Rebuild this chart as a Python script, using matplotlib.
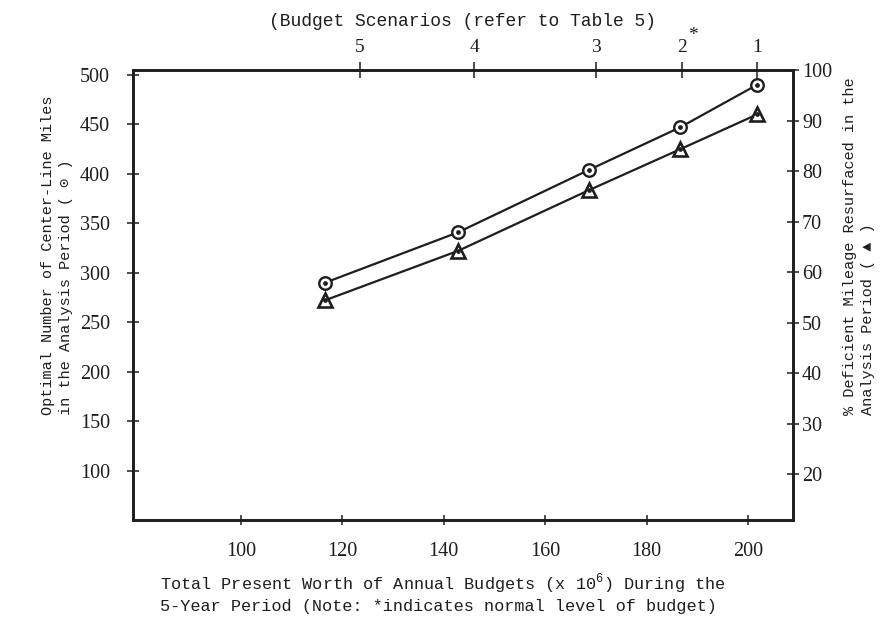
import matplotlib.pyplot as plt

# budget totals (x 10^6) for each scenario
budget = [116.5, 142.8, 168.6, 186.6, 201.8]
miles = [290, 341, 404, 447, 490]          # optimal center-line miles (left axis)
pct_resurfaced = [54.4, 64.2, 76.2, 84.3, 91.2]  # % deficient mileage resurfaced (right axis)

# budget scenarios shown on the top axis
scenario_pos = [123.5, 146.0, 170.0, 187.0, 201.8]
scenario_labels = ["5", "4", "3", "2", "1"]

x_ticks = [100, 120, 140, 160, 180, 200]
left_ticks = [100, 150, 200, 250, 300, 350, 400, 450, 500]
right_ticks = [20, 30, 40, 50, 60, 70, 80, 90, 100]

ink = "#1e1e1e"
mono = ["Liberation Mono", "DejaVu Sans Mono", "DejaVu Sans"]
serif = ["Liberation Serif", "DejaVu Serif"]
plt.rcParams["mathtext.fontset"] = "custom"
plt.rcParams["mathtext.rm"] = "Liberation Mono"

fig = plt.figure(figsize=(8.91, 6.27), dpi=100)
ax = fig.add_axes([133 / 891, 1 - 520 / 627, (793 - 133) / 891, (520 - 70) / 627])

ax.plot(budget, miles, color=ink, lw=1.6, marker="o", ms=9, mfc="white",
        mec=ink, mew=1.7, zorder=3)
ax.plot(budget, miles, ls="none", marker="o", ms=2.4, color=ink, zorder=4)

ax2 = ax.twinx()
ax2.plot(budget, pct_resurfaced, color=ink, lw=1.6, marker="^", ms=10, mfc="white",
         mec=ink, mew=1.9, zorder=3)
ax2.plot(budget, pct_resurfaced, ls="none", marker="o", ms=2.4, color=ink, zorder=4)

ax.set_xlim(78.7, 208.9)
ax.set_ylim(50.5, 505)
ax2.set_ylim(10.96, 100)

ax.set_xticks(x_ticks)
ax.set_yticks(left_ticks)
ax2.set_yticks(right_ticks)

for a in (ax, ax2):
    for s in a.spines.values():
        s.set_linewidth(1.9)
        s.set_color(ink)

ax.tick_params(axis="x", direction="inout", length=7, width=1.1, pad=12,
               labelsize=14.5, colors=ink)
ax.tick_params(axis="y", direction="inout", length=9, width=1.1, pad=12,
               labelsize=14.5, colors=ink)
ax2.tick_params(axis="y", direction="inout", length=9, width=1.1, pad=2,
                labelsize=14.5, colors=ink)
for lab in ax.get_xticklabels() + ax.get_yticklabels() + ax2.get_yticklabels():
    lab.set_fontfamily(serif)

# top axis with the budget scenario numbers
top = ax.secondary_xaxis("top")
top.set_xticks(scenario_pos)
top.set_xticklabels(scenario_labels, fontfamily=serif, fontsize=14)
top.tick_params(direction="inout", length=12, width=1.1, pad=4, colors=ink)
top.spines["top"].set_visible(False)
# asterisk marks the normal budget level (scenario 2)
ax.text(scenario_pos[3] + 1.2, 1.058, "*", transform=ax.get_xaxis_transform(),
        fontsize=14, fontfamily=serif, color=ink, ha="left", va="bottom")

fig.text(463 / 891, 1 - 22 / 627, "(Budget Scenarios (refer to Table 5)",
         ha="center", va="center", fontsize=13, fontfamily=mono, color=ink)

fig.text(57 / 891, 1 - 415 / 627,
         "Optimal Number of Center-Line Miles\nin the Analysis Period ( \u2299 )",
         rotation=90, ha="center", va="bottom", multialignment="left",
         fontsize=11, fontfamily=mono, color=ink, linespacing=1.35)

fig.text(859 / 891, 1 - 415 / 627,
         "% Deficient Mileage Resurfaced in the\nAnalysis Period ( \u25b2 )",
         rotation=90, ha="center", va="bottom", multialignment="left",
         fontsize=11, fontfamily=mono, color=ink, linespacing=1.35)

fig.text(160 / 891, 1 - 593 / 627,
         "Total Present Worth of Annual Budgets (x 10$^{6}$) During the\n"
         "5-Year Period (Note: *indicates normal level of budget)",
         ha="left", va="center", fontsize=12.2, fontfamily=mono, color=ink,
         linespacing=1.2)

fig.savefig("out.png", dpi=100, facecolor="white")
